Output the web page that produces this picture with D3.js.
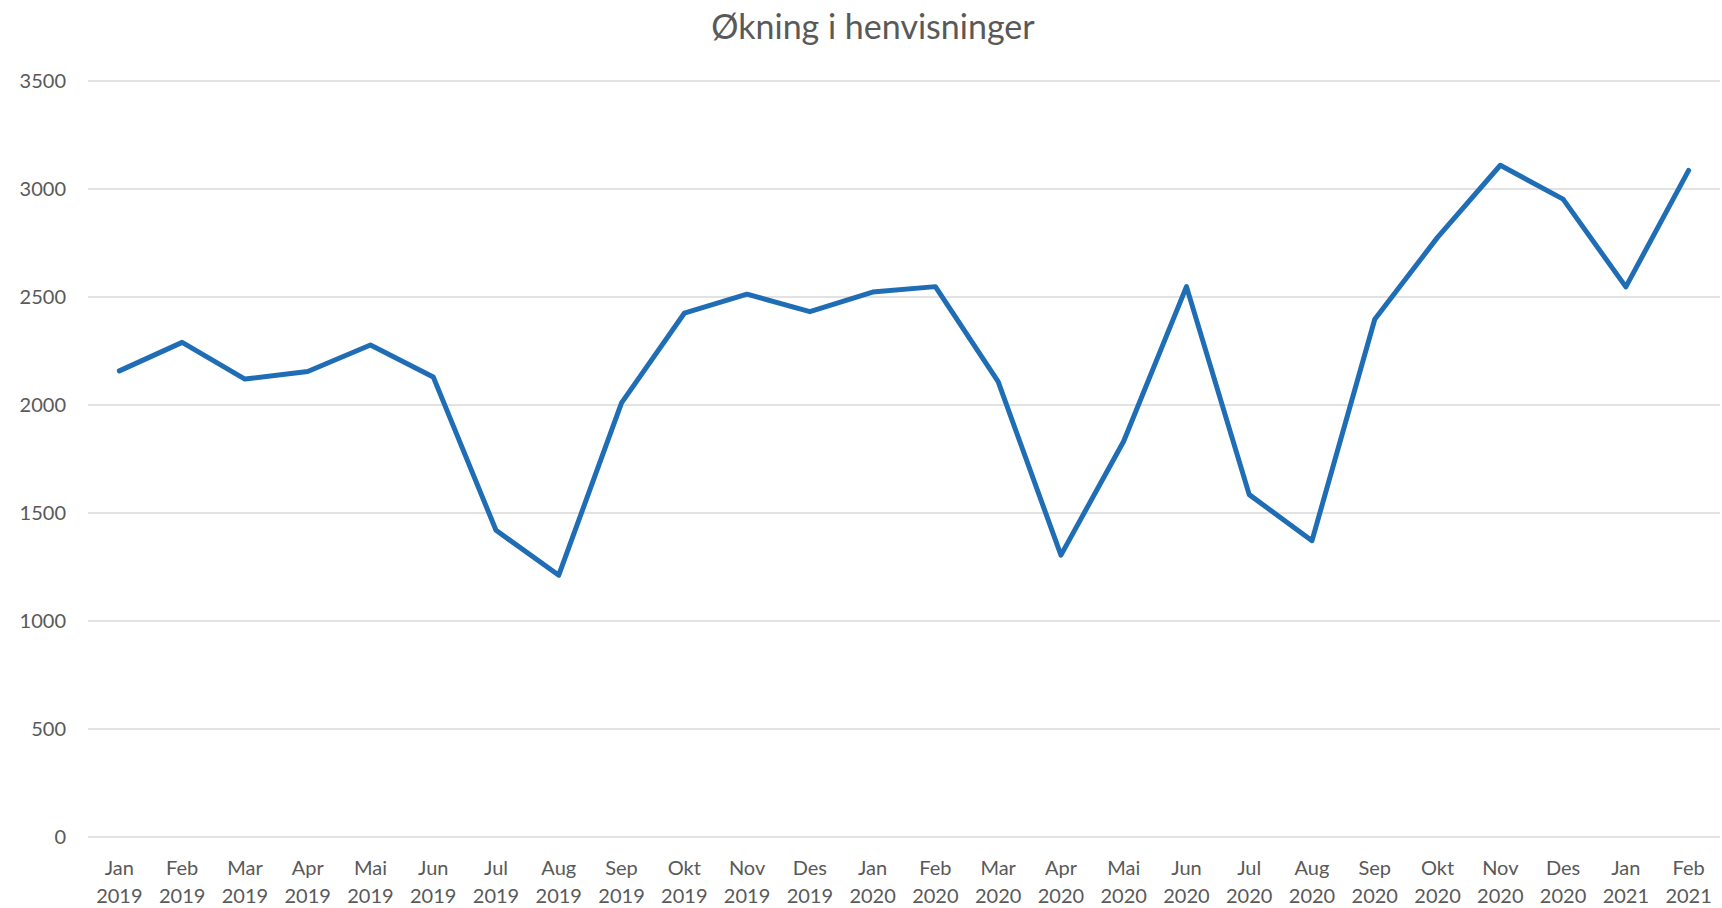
<!DOCTYPE html>
<html>
<head>
<meta charset="utf-8">
<script src="https://cdn.jsdelivr.net/npm/d3@7"></script>
<style>
  body { margin: 0; background: #fff; }
  text { font-family: Lato, "Open Sans", sans-serif; fill: #595959; }
</style>
</head>
<body>
<div id="chart"></div>
<script>
const months = ["Jan", "Feb", "Mar", "Apr", "Mai", "Jun", "Jul", "Aug", "Sep", "Okt", "Nov", "Des",
  "Jan", "Feb", "Mar", "Apr", "Mai", "Jun", "Jul", "Aug", "Sep", "Okt", "Nov", "Des", "Jan", "Feb"];
const years = ["2019", "2019", "2019", "2019", "2019", "2019", "2019", "2019", "2019", "2019", "2019", "2019",
  "2020", "2020", "2020", "2020", "2020", "2020", "2020", "2020", "2020", "2020", "2020", "2020", "2021", "2021"];
const henvisninger = [2158, 2290, 2120, 2155, 2278, 2130, 1420, 1212, 2010, 2425, 2513, 2432,
  2523, 2548, 2108, 1305, 1832, 2548, 1585, 1372, 2397, 2776, 3110, 2953, 2547, 3086];
const yTicks = [0, 500, 1000, 1500, 2000, 2500, 3000, 3500];
const title = "Økning i henvisninger";

const width = 1722, height = 908;
const margin = { top: 81, right: 2, bottom: 71, left: 88 };

const svg = d3.select('#chart')
  .append('svg')
  .attr('width', width)
  .attr('height', height);

const x = d3.scaleBand()
  .domain(d3.range(months.length))
  .range([margin.left, width - margin.right]);

const y = d3.scaleLinear()
  .domain([0, 3500])
  .range([height - margin.bottom, margin.top]);

// gridlines
svg.append('g')
  .selectAll('line')
  .data(yTicks)
  .join('line')
  .attr('x1', margin.left)
  .attr('x2', width - margin.right)
  .attr('y1', d => y(d))
  .attr('y2', d => y(d))
  .attr('stroke', '#d9d9d9')
  .attr('stroke-width', 1.5);

// y labels
svg.append('g')
  .selectAll('text')
  .data(yTicks)
  .join('text')
  .attr('x', 66)
  .attr('y', d => y(d))
  .attr('dy', '0.35em')
  .attr('text-anchor', 'end')
  .attr('font-size', 20)
  .text(d => d);

// x labels, two lines
const xl = svg.append('g')
  .selectAll('text')
  .data(months)
  .join('text')
  .attr('text-anchor', 'middle')
  .attr('font-size', 20);
xl.append('tspan')
  .attr('x', (d, i) => x(i) + x.bandwidth() / 2)
  .attr('y', 875)
  .text(d => d);
xl.append('tspan')
  .attr('x', (d, i) => x(i) + x.bandwidth() / 2)
  .attr('y', 903)
  .text((d, i) => years[i]);

// line
const line = d3.line()
  .x((d, i) => x(i) + x.bandwidth() / 2)
  .y(d => y(d));

svg.append('path')
  .datum(henvisninger)
  .attr('d', line)
  .attr('fill', 'none')
  .attr('stroke', '#1f6db5')
  .attr('stroke-width', 5)
  .attr('stroke-linejoin', 'round')
  .attr('stroke-linecap', 'round');

svg.append('text')
  .attr('x', 873)
  .attr('y', 39)
  .attr('text-anchor', 'middle')
  .attr('font-size', 34)
  .text(title);
</script>
</body>
</html>
